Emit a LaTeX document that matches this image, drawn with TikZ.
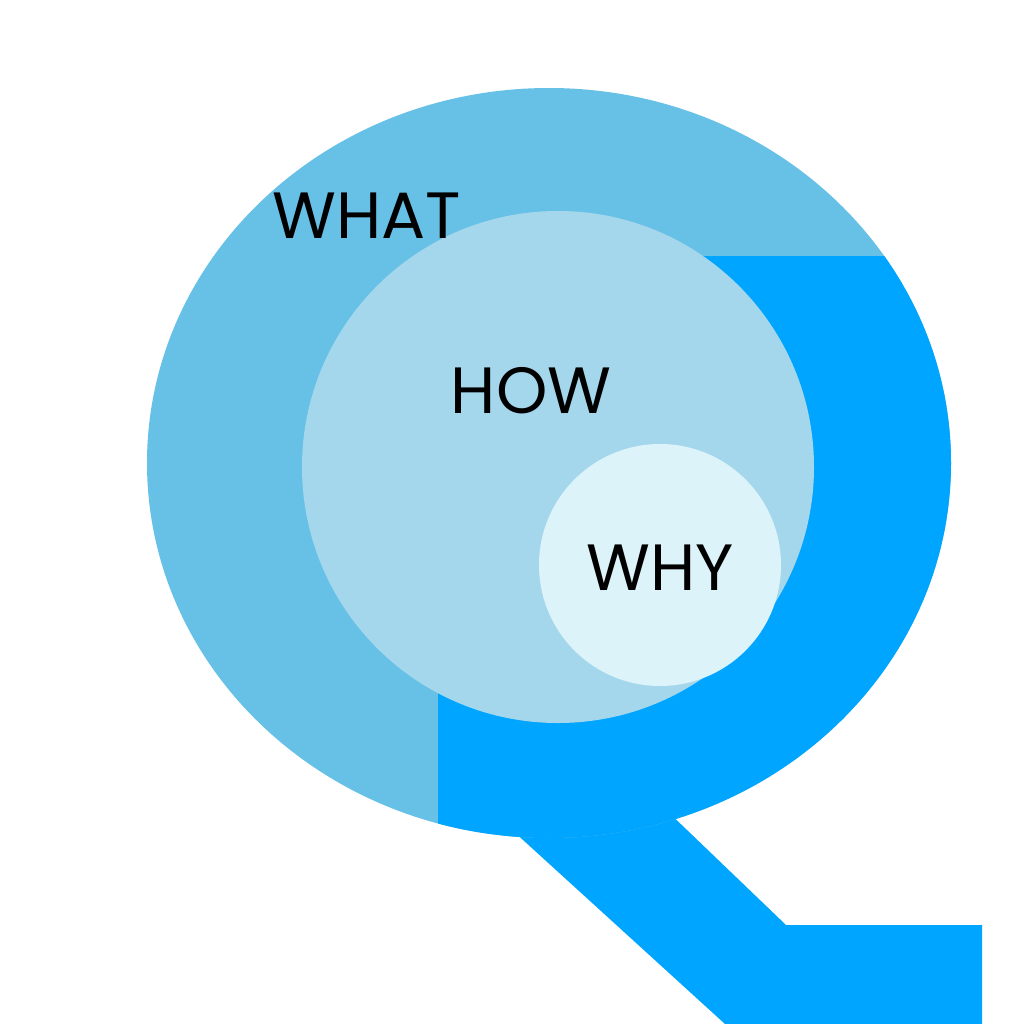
\documentclass[tikz,border=0pt]{standalone}
\usepackage{fontspec}
\setmainfont{Poppins}
\definecolor{outer}{HTML}{67C1E7}
\definecolor{bright}{HTML}{00A5FF}
\definecolor{middle}{HTML}{A5D7EC}
\definecolor{inner}{HTML}{DDF3FA}

\begin{document}
\begin{tikzpicture}[x=0.01cm,y=-0.01cm]
    \useasboundingbox (0,0) rectangle (1024,1024);
    \tikzset{word/.style={font=\fontsize{18.6}{22}\selectfont, text=black, inner sep=0pt}}
    % tail of the Q
    \fill [bright] (500,819) -- (662,806) -- (786,925) -- (982,925) -- (982,1024) -- (725,1024) -- cycle;
    % outer ring
    \fill [outer] (549,463) ellipse [x radius=402, y radius=375];
    \begin{scope}
      \clip (549,463) ellipse [x radius=402, y radius=375];
      \fill [bright] (438,256) rectangle (1024,1024);
    \end{scope}
    \fill [middle] (558,467) circle [radius=256];
    \fill [inner] (660,565) circle [radius=121];
    \node[word] (what) at (367,216) {WHAT};
    \node[word] (how) at (531,391) {HOW};
    \node[word] (why) at (660,568) {WHY};
  \end{tikzpicture}
\end{document}
